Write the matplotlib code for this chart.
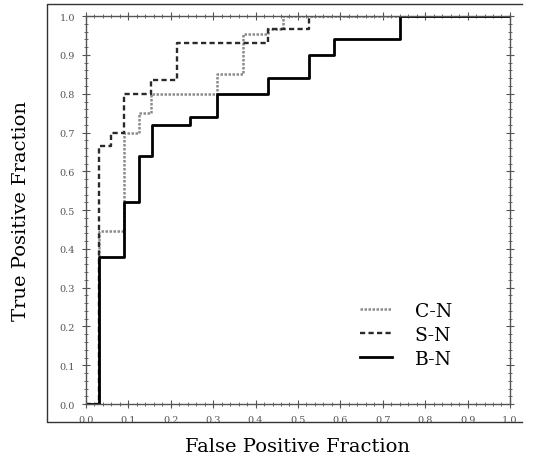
import numpy as np
import matplotlib
matplotlib.use('Agg')
import matplotlib.pyplot as plt
from matplotlib.ticker import MultipleLocator
from matplotlib.lines import Line2D

# ---------------------------------------------------------------
# ROC step points (fpr, tpr)
cn_fpr = [0.0, 0.03, 0.09, 0.125, 0.153, 0.308, 0.371, 0.43, 0.464, 1.0]
cn_tpr = [0.0, 0.447, 0.70, 0.75, 0.80, 0.85, 0.954, 0.966, 1.0, 1.0]

sn_fpr = [0.0, 0.03, 0.06, 0.09, 0.153, 0.214, 0.43, 0.526, 1.0]
sn_tpr = [0.0, 0.666, 0.70, 0.80, 0.835, 0.932, 0.966, 1.0, 1.0]

bn_fpr = [0.0, 0.03, 0.09, 0.125, 0.155, 0.245, 0.308, 0.43, 0.526, 0.585, 0.74, 1.0]
bn_tpr = [0.0, 0.38, 0.52, 0.64, 0.72, 0.74, 0.80, 0.84, 0.90, 0.94, 1.0, 1.0]

labels = ['C-N', 'S-N', 'B-N']
# ---------------------------------------------------------------

plt.rcParams['font.family'] = 'DejaVu Serif'

fig = plt.figure(figsize=(5.35, 4.64), dpi=100)
ax = fig.add_axes([0.1607, 0.127, 0.7925, 0.836])

# outer frame round the plot
frame_x = [0.976, 0.088, 0.088, 0.976]
frame_y = [0.989, 0.989, 0.088, 0.088]
fig.add_artist(Line2D(frame_x, frame_y, transform=fig.transFigure,
                      color='#333333', lw=1.0))

ax.step(cn_fpr, cn_tpr, where='post', color='#8c8c8c', lw=1.8,
        linestyle=(0, (1, 0.6)), label=labels[0])
ax.step(sn_fpr, sn_tpr, where='post', color='#2a2a2a', lw=1.7,
        linestyle=(0, (2.2, 1.4)), label=labels[1])
ax.step(bn_fpr, bn_tpr, where='post', color='black', lw=2.0,
        label=labels[2])

ax.set_xlim(0, 1)
ax.set_ylim(0, 1)
ax.xaxis.set_major_locator(MultipleLocator(0.1))
ax.yaxis.set_major_locator(MultipleLocator(0.1))
ax.xaxis.set_minor_locator(MultipleLocator(0.02))
ax.yaxis.set_minor_locator(MultipleLocator(0.02))
ax.xaxis.set_major_formatter(plt.FormatStrFormatter('%.1f'))
ax.yaxis.set_major_formatter(plt.FormatStrFormatter('%.1f'))

ax.tick_params(which='both', direction='inout', top=True, right=True,
               color='#555555', labelsize=7, labelcolor='#555555')
ax.tick_params(which='major', length=6, width=0.8, pad=5)
ax.tick_params(which='minor', length=3, width=0.6)
for sp in ax.spines.values():
    sp.set_color('#555555')
    sp.set_linewidth(1.0)

ax.set_xlabel('False Positive Fraction', fontsize=14, labelpad=9)
ax.set_ylabel('True Positive Fraction', fontsize=14, labelpad=21)

ax.legend(loc='center', bbox_to_anchor=(0.755, 0.178), frameon=False,
          fontsize=13.5, handlelength=1.7, labelspacing=0.32,
          handletextpad=1.2)

fig.savefig('out.png', dpi=100)
